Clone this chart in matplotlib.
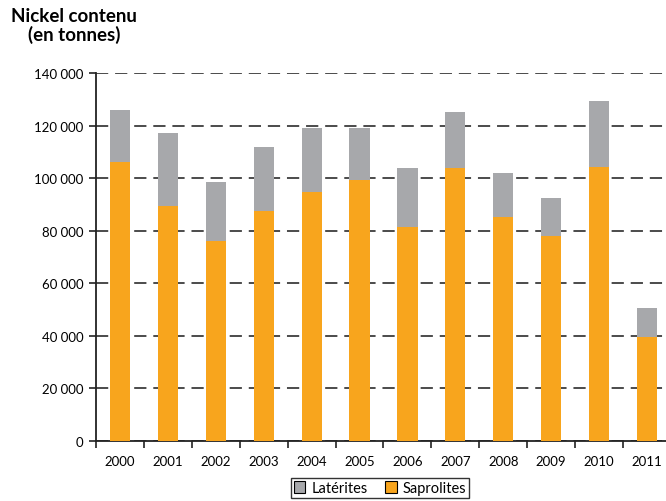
import matplotlib
matplotlib.use("Agg")
import matplotlib.pyplot as plt
from matplotlib.ticker import FuncFormatter
import numpy as np

years = ["2000", "2001", "2002", "2003", "2004", "2005",
         "2006", "2007", "2008", "2009", "2010", "2011"]
saprolites = [106000, 89400, 76200, 87600, 94700, 99300,
              81500, 103900, 85300, 78000, 104400, 39700]
laterites = [20000, 27800, 22300, 24200, 24400, 19800,
             22400, 21300, 16700, 14400, 24900, 10900]
yticks = [0, 20000, 40000, 60000, 80000, 100000, 120000, 140000]

ORANGE = "#F8A51D"
GREY = "#A7A8AB"

plt.rcParams["font.family"] = ["Lato", "DejaVu Sans"]

fig = plt.figure(figsize=(6.66, 5.02), dpi=100)
ax = fig.add_axes([96 / 666, 60 / 502, 575 / 666, 368 / 502])

x = np.arange(len(years))
w = 0.42
ax.bar(x, saprolites, width=w, color=ORANGE, zorder=3, label="Saprolites")
ax.bar(x, laterites, width=w, bottom=saprolites, color=GREY, zorder=3,
       label="Latérites")

ax.set_xlim(-0.5, len(years) - 0.5)
ax.set_ylim(0, 140000)

ax.set_yticks(yticks)
ax.yaxis.set_major_formatter(FuncFormatter(
    lambda v, _: f"{int(v):,}".replace(",", " ")))
ax.tick_params(axis="y", length=5, width=1.2, color="#222222",
               labelsize=9.5, pad=4)

ax.set_xticks(x)
ax.set_xticklabels(years)
ax.set_xticks(np.arange(-0.5, len(years), 1.0), minor=True)
ax.tick_params(axis="x", which="major", length=0, labelsize=9.5, pad=10)
ax.tick_params(axis="x", which="minor", length=5, width=1.2, color="#222222")

ax.yaxis.grid(True, color="#1a1a1a", linewidth=1.1,
              linestyle=(0, (8, 4.5)), zorder=1)
ax.set_axisbelow(True)

for s in ("top", "right"):
    ax.spines[s].set_visible(False)
for s in ("left", "bottom"):
    ax.spines[s].set_color("#222222")
    ax.spines[s].set_linewidth(1.3)

fig.text(74 / 666, 1 - 26 / 502, "Nickel contenu\n(en tonnes)",
         ha="center", va="center", fontsize=13.5, fontweight="bold",
         linespacing=1.1)

handles, labels = ax.get_legend_handles_labels()
leg = fig.legend(handles[::-1], labels[::-1], loc="center",
                 bbox_to_anchor=(380 / 666, 1 - 489 / 502), ncol=2,
                 fontsize=10.5, frameon=True, fancybox=False,
                 edgecolor="#000000", handlelength=0.8, handleheight=0.8,
                 handletextpad=0.4, columnspacing=1.2, borderpad=0.2,
                 borderaxespad=0)
leg.get_frame().set_linewidth(1.0)
for p in leg.get_patches():
    p.set_edgecolor("#000000")
    p.set_linewidth(0.8)

fig.savefig("out.png", dpi=100)
